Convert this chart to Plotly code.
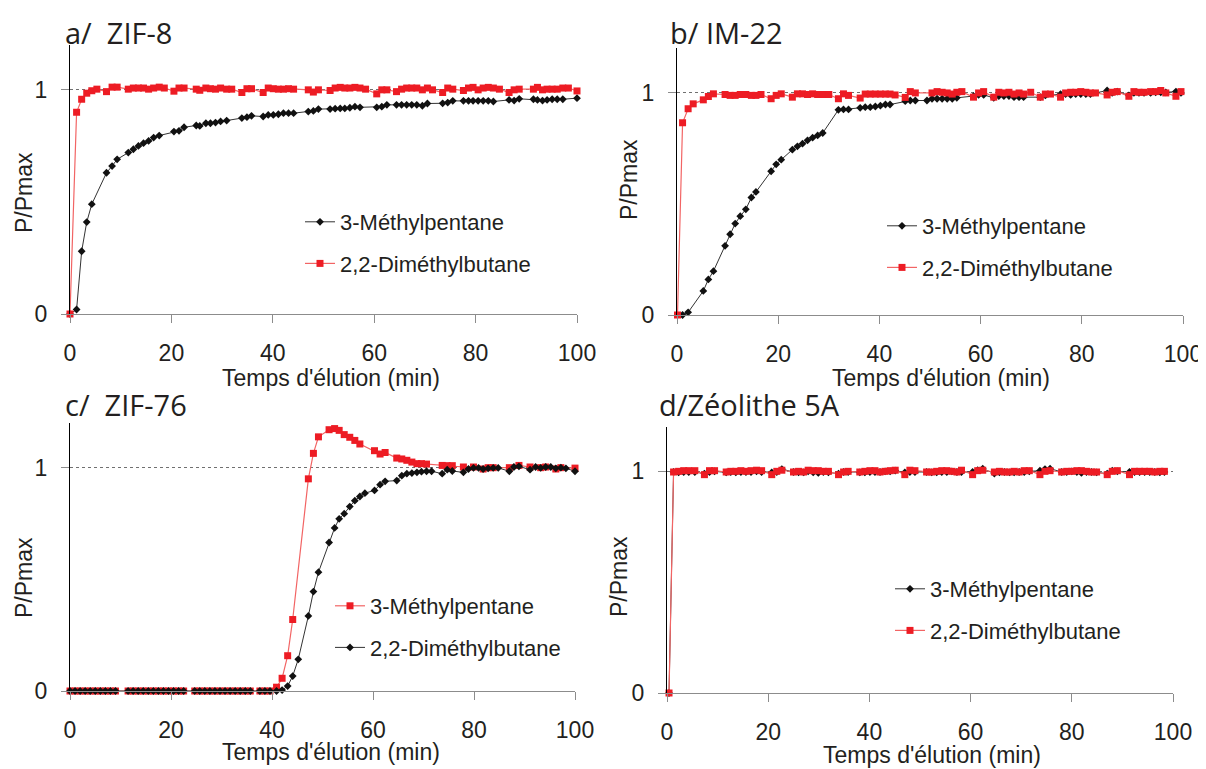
import plotly.graph_objects as go

W, H = 1206, 769
OFF = 8  # default page body margin that the figure is drawn inside

# ---------------- data ----------------
# Panel a/ ZIF-8
XA = [0, 1.3, 2.3, 3.3, 4.3, 5.3, 7.2, 8.3, 9.3, 11.5, 12.5, 13.5, 14.5, 15.5, 16.5, 17.6, 18.6,
      20.5, 21.5, 22.5, 24.9, 25.6, 26.8, 27.7, 28.7, 29.7, 30.9, 31.9, 33.9, 34.9, 35.8,
      38.1, 39.1, 40.1, 41.1, 42.1, 43.1, 44.1, 47.0, 48.0, 49.0, 51.3, 52.3, 53.3, 54.2, 55.2,
      56.2, 57.2, 58.3, 60.5, 61.5, 62.5, 64.4, 65.4, 66.4, 67.4, 68.4, 69.5, 70.5, 71.5,
      73.5, 74.5, 75.5, 77.6, 78.6, 79.5, 80.5, 81.5, 82.5, 83.5, 84.7, 86.6, 87.6, 88.6,
      91.4, 92.2, 93.2, 94.1, 95.1, 96.1, 97.2, 98.3, 100]
A_3MP = [0, 0.02, 0.28, 0.41, 0.49, None, 0.63, 0.66, 0.69,
         0.72, 0.735, 0.75, 0.762, 0.772, 0.787, 0.796, None,
         0.814, 0.817, 0.833,
         0.841, 0.839, 0.851, 0.851, 0.854, 0.859, 0.863, None,
         0.874, 0.878, 0.884,
         0.881, 0.888, 0.888, 0.891, 0.896, 0.896, 0.896,
         0.903, 0.906, 0.914,
         0.914, 0.916, 0.917, 0.917, 0.92, 0.925, 0.922, None,
         0.922, 0.925, 0.933,
         0.933, 0.933, 0.933, 0.933, 0.933, 0.929, 0.939, None,
         0.94, 0.943, 0.951,
         0.951, 0.951, 0.951, 0.951, 0.951, 0.951, 0.948, None,
         0.955, 0.952, 0.96,
         0.958, 0.955, 0.952, 0.955, 0.958, 0.958, 0.958, None,
         0.963]
A_22DMB = [0, 0.90, 0.958, 0.985, 0.996, 1.003, 0.992, 1.012, 1.012,
           1.003, 1.008, 1.008, 1.008, 1.003, 1.008, 1.012, 1.008,
           0.994, 1.008, 1.008,
           1.003, 0.998, 1.008, 1.005, 1.003, 1.008, 1.003, 1.003,
           0.988, 1.005, 1.005,
           0.988, 1.008, 1.005, 1.003, 1.003, 1.005, 1.003,
           1.0, 0.99, 1.0,
           0.997, 1.008, 1.011, 1.008, 1.008, 1.011, 1.008, 1.003,
           0.982, 1.0, 1.0,
           0.992, 1.003, 1.008, 1.008, 1.008, 1.0, 1.008, 1.0,
           0.988, 1.008, 1.003,
           0.997, 1.008, 1.011, 1.0, 1.008, 1.011, 1.008, 1.003,
           0.988, 1.0, 1.003,
           1.003, 1.011, 1.0, 1.003, 1.003, 1.003, 1.008, 1.008,
           0.995]

# Panel b/ IM-22
XB = [0.1, 1.1, 2.2, 3.2, 5.2, 6.2, 7.2, 9.5, 10.5, 11.5, 12.5, 13.6, 14.7, 15.6, 16.6,
      18.6, 19.6, 20.6, 22.8, 23.8, 24.8, 25.8, 26.8, 27.8, 28.8, 30.0, 31.9, 32.9, 33.9,
      36.2, 37.2, 38.2, 39.2, 40.2, 41.2, 42.1, 43.1, 45.1, 46.1, 47.1,
      49.4, 50.4, 51.4, 52.4, 53.4, 54.4, 55.3, 56.3, 58.6, 59.6, 60.6,
      62.6, 63.6, 64.6, 65.6, 66.6, 67.6, 68.5, 69.9, 71.8, 72.8, 73.8,
      75.8, 76.8, 77.8, 78.8, 79.8, 80.8, 81.7, 82.7, 85.0, 86.0, 87.0,
      89.3, 90.3, 91.3, 92.3, 93.6, 94.6, 95.6, 96.6, 98.6, 99.6]
B_3MP = [None, 0, 0.012, None,
         0.108, 0.16, 0.197,
         0.311, 0.363, 0.411, 0.444, 0.475, 0.528, 0.553, None,
         0.646, 0.677, 0.698,
         0.743, 0.758, 0.770, 0.785, 0.797, 0.807, 0.818,
         None,
         0.922, 0.924, 0.924,
         0.931, 0.934, 0.934, 0.937, 0.941, 0.946, 0.946, None,
         0.961, 0.964, 0.964,
         0.964, 0.972, 0.972, 0.972, 0.972, 0.972, 0.976, None,
         0.984, 0.989, 0.989,
         0.976, 0.984, 0.984, 0.984, 0.979, 0.979, 0.979, None,
         0.979, 0.987, None,
         0.993, 0.993, 0.989, 0.993, 0.993, 0.993, 0.993, None,
         1.009, 0.998, 1.004,
         0.987, 0.998, 0.998, 0.998, 0.998, 1.001, 1.001, 1.001,
         1.004, 0.998]
B_22DMB = [0, 0.864, 0.927, 0.949,
           0.967, 0.982, 0.994,
           0.991, 0.987, 0.987, 0.991, 0.991, 0.987, 0.987, 0.991,
           0.972, 0.987, 0.994,
           0.979, 0.994, 0.994, 0.991, 0.994, 0.991, 0.991,
           0.991,
           0.972, 0.994, 0.987,
           0.975, 0.993, 0.993, 0.993, 0.993, 0.993, 0.993, 0.989,
           0.978, 1.004, 0.998,
           None, 0.998, 1.004, 1.001, 0.998, 0.993, 1.001, 1.004,
           0.979, 0.998, 1.004,
           0.979, 1.001, 0.998, 1.001, 0.993, 0.998, 0.993, 1.001,
           0.979, 0.993, 0.993,
           0.979, 0.998, 1.001, 1.001, 1.004, 1.001, 0.998, 0.998,
           0.989, 1.001, 1.004,
           0.983, 1.004, 1.001, 1.001, 1.004, 1.004, 1.009, 0.998,
           0.983, 1.004]

# Panel c/ ZIF-76
XC = [0, 1, 2, 3, 4, 5, 6, 7, 8, 9,
      11.5, 12.5, 13.5, 14.5, 15.5, 16.5, 17.5, 18.5, 19.5, 20.5, 21.5, 22.5,
      24.7, 25.7, 26.7, 27.7, 28.7, 29.7, 30.7, 31.7, 32.7, 33.7, 34.7, 35.7,
      37.6, 38.6, 39.6,
      40.9, 42.0, 43.1, 44.1, 45.2, 47.2, 48.2, 49.2,
      51.3, 52.4, 53.3, 54.3, 55.4, 56.4, 57.4, 58.4, 60.3, 61.4, 62.4,
      64.7, 65.7, 66.7, 67.7, 68.7, 69.6, 70.6, 71.6, 73.7, 74.7, 75.7,
      77.9, 78.9, 79.9, 80.9, 81.8, 82.8, 83.8, 84.8, 87.0, 87.9, 88.9,
      91.1, 92.2, 93.2, 94.2, 95.2, 96.2, 97.2, 98.2, 100]
C_3MP = [0, 0, 0, 0, 0, 0, 0, 0, 0, 0,
         0, 0, 0, 0, 0, 0, 0, 0, 0, 0, 0, 0,
         0, 0, 0, 0, 0, 0, 0, 0, 0, 0, 0, 0,
         0, 0, 0,
         0.017, 0.057, 0.158, 0.32, None, 0.95, 1.064, 1.138,
         1.17, 1.175, 1.167, 1.148, 1.136, 1.122, 1.106, None, 1.076, 1.061, 1.068,
         1.043, 1.039, 1.033, 1.025, 1.018, 1.018, 1.016, None, 1.01, 1.009, 1.009,
         1.003, None, 1.003, None, 0.994, 1.0, 1.0, None, 1.0, None, 1.01,
         1.003, None, 1.0, 1.003, None, 0.994, 1.0, None, 0.998]
C_22DMB = [0, 0, 0, 0, 0, 0, 0, 0, 0, 0,
           0, 0, 0, 0, 0, 0, 0, 0, 0, 0, 0, 0,
           0, 0, 0, 0, 0, 0, 0, 0, 0, 0, 0, 0,
           0, 0, 0,
           0, 0.004, 0.022, 0.067, 0.142, 0.336, 0.445, 0.532,
           0.665, 0.73, 0.771, 0.794, 0.826, 0.852, 0.871, 0.886, 0.898, 0.924, 0.939,
           0.942, 0.964, 0.973, 0.976, 0.979, 0.982, 0.984, 0.984, 0.973, 0.991, 0.985,
           0.979, 0.994, 0.999, 0.999, 0.994, 0.997, 0.999, 0.999, 0.984, 1.003, 1.006,
           0.991, 1.003, 0.999, 1.003, 1.003, 0.997, 1.0, 0.997, 0.984]

# Panel d/ Zeolithe 5A
XD = [0.4, 1.3, 2.3, 3.3, 4.3, 5.5, 7.4, 8.4, 9.4,
      11.7, 12.6, 13.6, 14.6, 15.6, 16.6, 17.7, 18.7, 20.7, 21.7, 22.7,
      25.0, 26.0, 27.0, 27.9, 28.9, 29.9, 30.9, 31.9, 33.9, 34.9, 35.8,
      38.1, 39.1, 40.1, 41.1, 42.1, 43.1, 44.1, 45.1, 47.0, 48.0, 49.0,
      51.3, 52.3, 53.3, 54.3, 55.3, 56.3, 57.3, 58.2, 60.4, 61.4, 62.4,
      64.7, 65.7, 66.7, 67.7, 68.6, 69.6, 70.6, 71.6, 73.7, 74.7, 75.7,
      78.0, 79.0, 80.0, 81.0, 81.9, 82.9, 83.9, 84.9, 87.0, 88.0, 89.0,
      91.4, 92.4, 93.4, 94.4, 95.4, 96.4, 97.4, 98.3]
D_3MP = [0, 0.997, 0.995, 0.997, 0.997, 0.997, 0.99, 0.997, 1.0,
         0.995, 0.997, 0.995, 0.997, 0.997, 0.997, 1.0, 0.997, 0.995, 0.997, 1.01,
         0.997, 0.995, 0.995, 1.0, 0.995, 0.993, 0.997, 0.995, 0.99, 0.997, 0.997,
         0.995, 0.995, 0.997, 0.997, 0.997, 1.0, 1.0, 1.003, 0.995, 0.997, 0.997,
         0.997, 0.995, 0.995, 0.997, 0.997, 1.0, 0.997, 0.997, 0.997, 1.005, 1.012,
         0.99, 0.995, 0.997, 0.995, 0.995, 0.997, 0.997, 1.0, 1.003, 1.01, 1.012,
         0.997, 0.997, 1.0, 0.997, 0.993, 0.997, 0.997, 0.995, 0.99, 1.003, 1.0,
         0.997, 0.997, 0.997, 0.997, 0.997, 0.997, 0.995, 0.997]
D_22DMB = [0, 0.997, 1.0, 1.003, 1.003, 1.003, 0.985, 1.003, 1.003,
           0.997, 1.0, 1.0, 1.003, 1.0, 1.003, 1.005, 1.003, 0.985, 1.0, 1.005,
           0.997, 1.0, 0.997, 1.005, 1.003, 1.003, 1.0, 1.0, 0.985, 0.997, 1.0,
           0.997, 1.0, 1.003, 1.003, 0.997, 1.0, 1.003, 1.005, 0.985, 1.005, 1.003,
           0.997, 0.997, 1.0, 1.003, 1.003, 1.0, 0.997, 1.005, 0.985, 1.003, 1.005,
           0.997, 1.0, 0.997, 0.997, 1.0, 0.997, 1.003, 1.003, 0.985, 1.0, 1.003,
           0.997, 1.0, 1.0, 1.003, 1.003, 1.0, 0.997, 0.997, 0.985, 1.0, 1.003,
           0.985, 1.0, 1.0, 1.0, 1.0, 0.997, 1.0, 1.0]

NAME_3MP = "3-Méthylpentane"
NAME_22DMB = "2,2-Diméthylbutane"
TITLES = ["a/&nbsp; ZIF-8", "b/ IM-22", "c/&nbsp; ZIF-76", "d/Zéolithe 5A"]
XTICKS = [0, 20, 40, 60, 80, 100]
YTICKS = [0, 1]
XLABEL = "Temps d'élution (min)"
YLABEL = "P/Pmax"

# ---------------- styles ----------------
TXT = "#231f20"
FONT = "Liberation Sans"
RED_M, RED_L = "#ed1c24", "rgb(242,100,100)"
BLK_M, BLK_L = "#111111", "#333333"

FW, FH = W - OFF, H - OFF


def px(x):
    return (x - OFF) / FW


def py(y):
    return 1 - (y - OFF) / FH


# panel geometry in screen pixels: (left, right, top, bottom)
PANELS = [(70, 577, 45, 314), (677, 1183, 48, 315), (70, 575, 423, 691), (667, 1173, 427, 693)]

fig = go.Figure()


def black_trace(x, y, name, ax, leg):
    return go.Scatter(x=x, y=y, name=name, mode="lines+markers", connectgaps=True,
                      line=dict(color=BLK_L, width=1),
                      marker=dict(symbol="diamond", size=6, color=BLK_M),
                      xaxis="x" + ax, yaxis="y" + ax, legend=leg, legendgroup=leg + name,
                      cliponaxis=False)


def red_trace(x, y, name, ax, leg):
    return go.Scatter(x=x, y=y, name=name, mode="lines+markers", connectgaps=True,
                      line=dict(color=RED_L, width=1.2),
                      marker=dict(symbol="square", size=7, color=RED_M),
                      xaxis="x" + ax, yaxis="y" + ax, legend=leg, legendgroup=leg + name,
                      cliponaxis=False)


# a
fig.add_trace(black_trace(XA, A_3MP, NAME_3MP, "", "legend"))
fig.add_trace(red_trace(XA, A_22DMB, NAME_22DMB, "", "legend"))
# b
fig.add_trace(black_trace(XB, B_3MP, NAME_3MP, "2", "legend2"))
fig.add_trace(red_trace(XB, B_22DMB, NAME_22DMB, "2", "legend2"))
# c (red = 3-Méthylpentane, black = 2,2-Diméthylbutane, as in the original)
fig.add_trace(red_trace(XC, C_3MP, NAME_3MP, "3", "legend3"))
fig.add_trace(black_trace(XC, C_22DMB, NAME_22DMB, "3", "legend3"))
# d
fig.add_trace(black_trace(XD, D_3MP, NAME_3MP, "4", "legend4"))
fig.add_trace(red_trace(XD, D_22DMB, NAME_22DMB, "4", "legend4"))

layout = dict(width=FW, height=FH, margin=dict(l=0, r=0, t=0, b=0, pad=0),
              paper_bgcolor="white", plot_bgcolor="white", showlegend=True)

for i, (l, r, t, b) in enumerate(PANELS):
    s = "" if i == 0 else str(i + 1)
    layout["xaxis" + s] = dict(domain=[px(l), px(r)], range=[0, 100], anchor="y" + s,
                               tickvals=XTICKS, showline=True, linecolor="#8c8c8c", linewidth=1,
                               ticks="outside", ticklen=8, tickcolor="#8c8c8c",
                               showgrid=False, zeroline=False, ticklabelstandoff=10,
                               automargin=False,
                               tickfont=dict(family=FONT, size=23, color=TXT), fixedrange=True)
    layout["yaxis" + s] = dict(domain=[py(b), py(t)], range=[0, 1.2], anchor="x" + s,
                               tickvals=YTICKS, showline=True, linecolor="black", linewidth=1,
                               ticks="outside", ticklen=8, tickcolor="#8c8c8c",
                               showgrid=True, gridcolor="#707070", griddash="dot", gridwidth=1,
                               zeroline=False, ticklabelstandoff=9, automargin=False,
                               tickfont=dict(family=FONT, size=23, color=TXT), fixedrange=True)

# legends: (text-left px, first-row center px)
LEG_POS = [(340, 221), (922, 225), (370, 605), (930, 588)]
for i, (tx, ty) in enumerate(LEG_POS):
    key = "legend" if i == 0 else "legend" + str(i + 1)
    layout[key] = dict(x=px(tx - 40), y=py(ty - 20), xanchor="left", yanchor="top",
                       bgcolor="rgba(0,0,0,0)", itemwidth=30, traceorder="grouped",
                       tracegroupgap=10,
                       font=dict(family=FONT, size=22, color=TXT))

annotations = []
TITLE_POS = [(63, 32), (668, 33), (63, 404), (657, 404)]
for (tx, ty), txt in zip(TITLE_POS, TITLES):
    annotations.append(dict(text=txt, x=px(tx), y=py(ty), xref="paper", yref="paper",
                            xanchor="left", yanchor="middle", showarrow=False,
                            font=dict(family="Open Sans", size=29, color=TXT)))
XLAB_POS = [(331, 378), (941, 378), (331, 752), (932, 755)]
for (tx, ty) in XLAB_POS:
    annotations.append(dict(text=XLABEL, x=px(tx), y=py(ty), xref="paper", yref="paper",
                            xanchor="center", yanchor="middle", showarrow=False,
                            font=dict(family=FONT, size=23, color=TXT)))
YLAB_POS = [(24, 193), (629, 180), (24, 578), (619, 577)]
for (tx, ty) in YLAB_POS:
    annotations.append(dict(text=YLABEL, x=px(tx), y=py(ty), xref="paper", yref="paper",
                            xanchor="center", yanchor="middle", textangle=-90, showarrow=False,
                            font=dict(family=FONT, size=23, color=TXT)))
layout["annotations"] = annotations

fig.update_layout(**layout)
fig.write_html("out.html")
